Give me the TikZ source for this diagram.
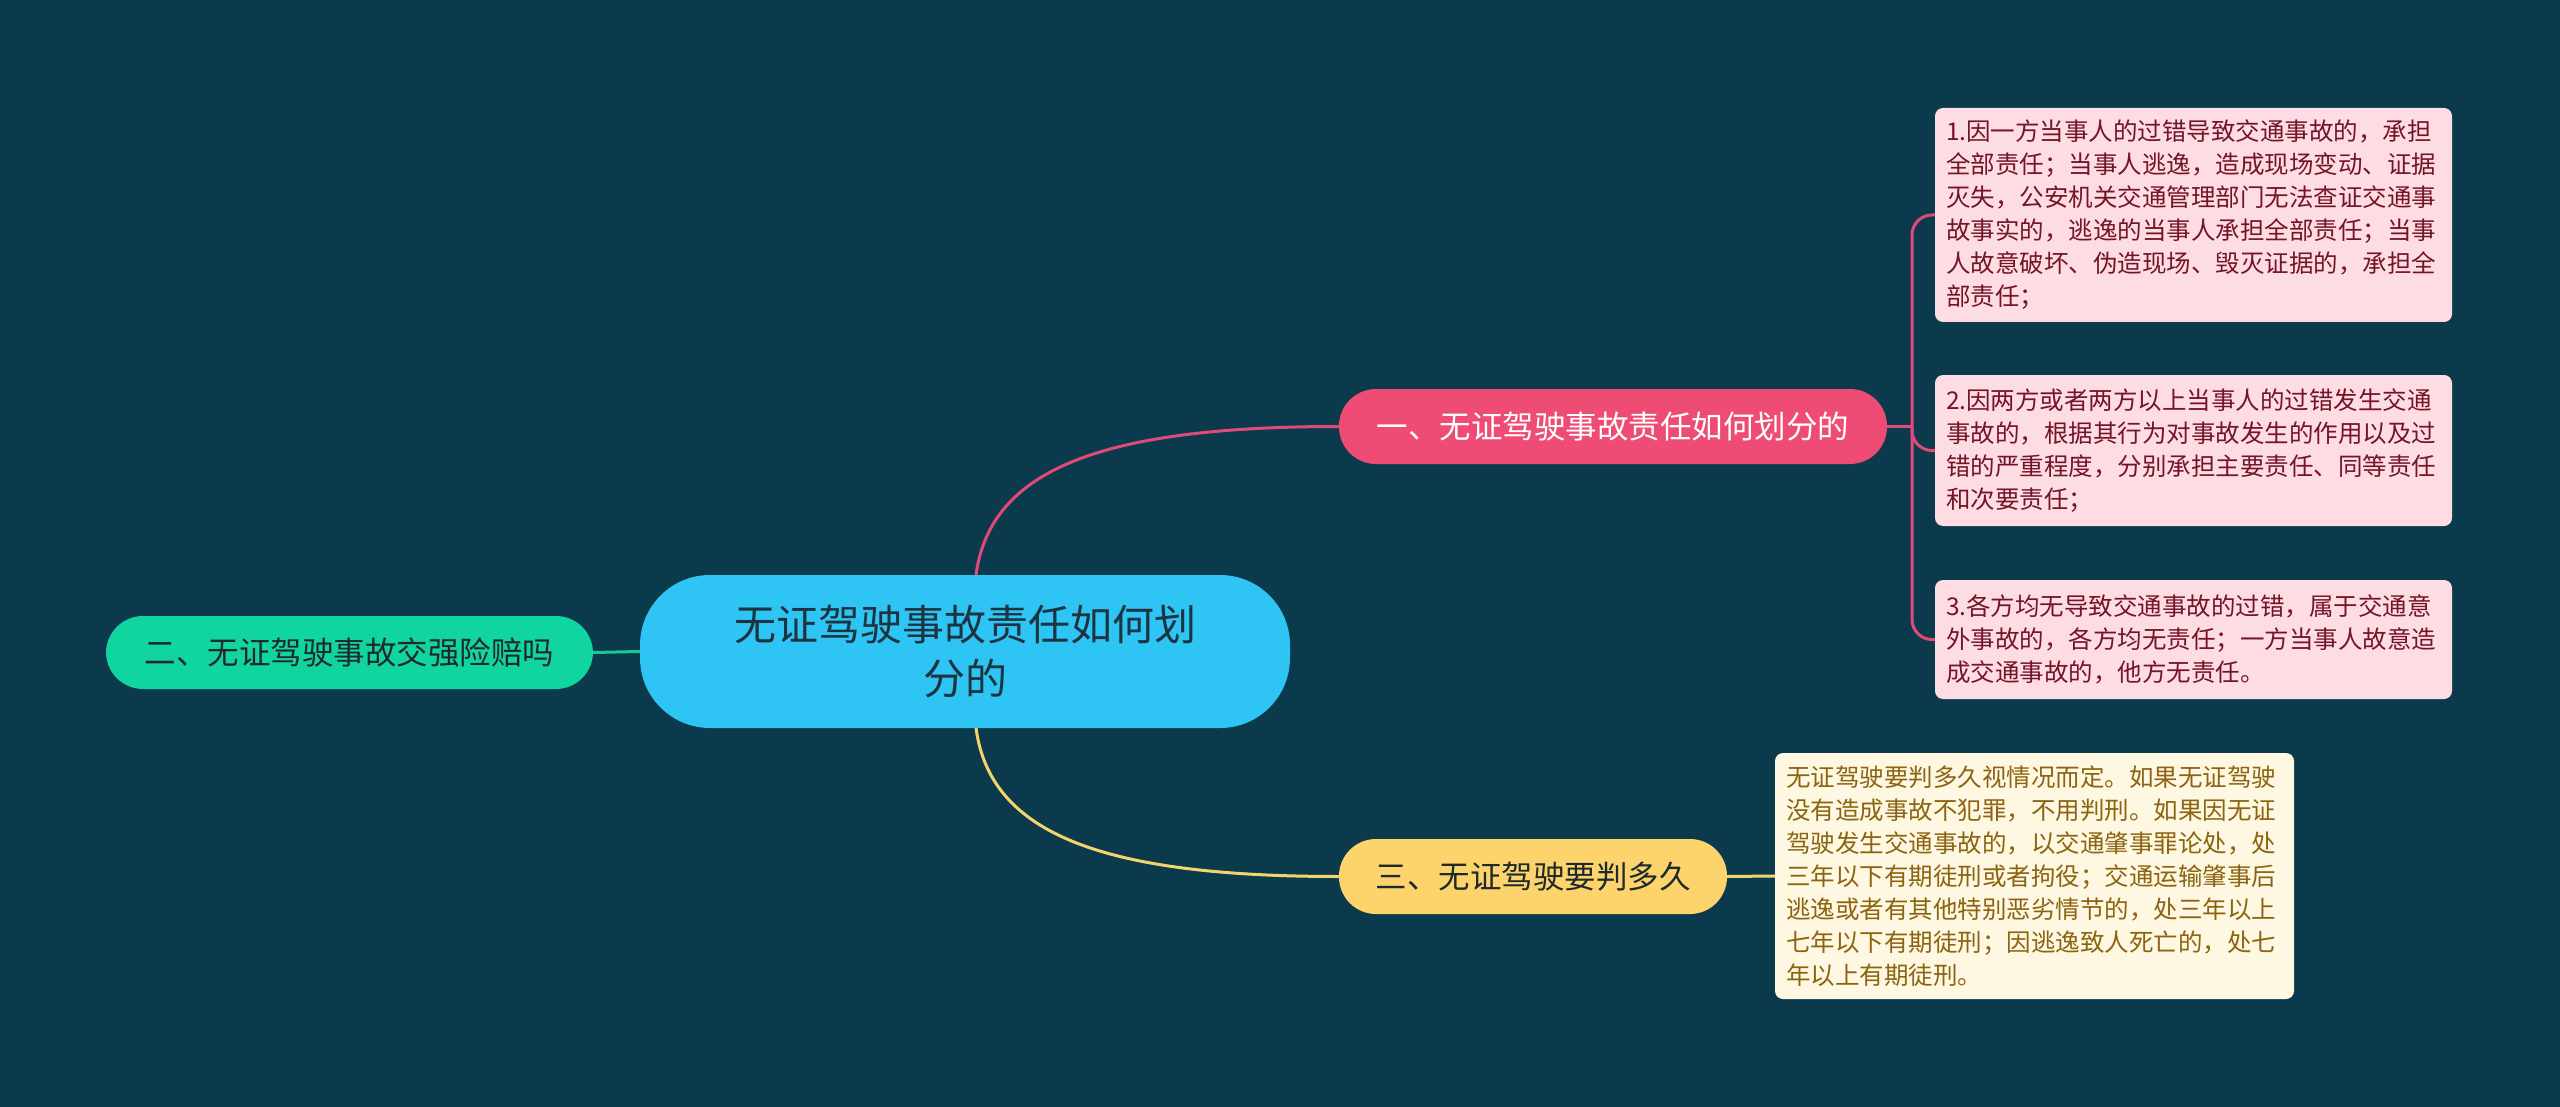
\documentclass[tikz,border=0pt]{standalone}
\usepackage{fontspec}
\setmainfont{Noto Sans CJK SC}
\definecolor{bgc}{HTML}{0A3A4C}
\definecolor{cenfill}{HTML}{2EC4F4}
\definecolor{centext}{HTML}{1B3440}
\definecolor{pinkfill}{HTML}{EE4B75}
\definecolor{pinkline}{HTML}{E04A78}
\definecolor{greenfill}{HTML}{10D5A0}
\definecolor{greenline}{HTML}{16C99A}
\definecolor{yelfill}{HTML}{FDD46B}
\definecolor{yelline}{HTML}{F4D46C}
\definecolor{darktext}{HTML}{1E2A2A}
\definecolor{pinkbox}{HTML}{FDDDE3}
\definecolor{pinkboxtext}{HTML}{741426}
\definecolor{yelbox}{HTML}{FEF7E2}
\definecolor{yelboxtext}{HTML}{8C6410}
\begin{document}
\begin{tikzpicture}[x=1pt,y=-1pt,
  central/.style={fill=cenfill, rounded corners=70pt, minimum width=650pt, minimum height=153pt,
    inner sep=0pt, align=center, text=centext, font=\fontsize{42}{54}\selectfont},
  branch/.style={rounded corners=37pt, minimum height=75pt, inner sep=0pt, align=center,
    font=\fontsize{31.5}{38}\selectfont},
  leafbox/.style={rounded corners=8pt, inner xsep=11pt, inner ysep=0pt, text width=495pt,
    align=left, font=\fontsize{24.5}{33}\selectfont},
  conn/.style={line width=3pt},
  bracket/.style={line width=3pt, rounded corners=20pt}
]
\fill[bgc] (0,0) rectangle (2560,1107);
\useasboundingbox (0,0) rectangle (2560,1107);

\coordinate (ctop) at (976,575);
\coordinate (cbot) at (976,728);
\coordinate (pj) at (1912,426.5);

\node[central] (c) at (965,651.5) {无证驾驶事故责任如何划\\分的};

\node[branch, fill=pinkfill, text=white, minimum width=548pt] (p) at (1613,426.5) {一、无证驾驶事故责任如何划分的};
\node[branch, fill=greenfill, text=darktext, minimum width=487pt, minimum height=73pt] (g) at (349.5,652.5) {二、无证驾驶事故交强险赔吗};
\node[branch, fill=yelfill, text=darktext, minimum width=388pt] (y) at (1533,876.5) {三、无证驾驶要判多久};

\node[leafbox, fill=pinkbox, text=pinkboxtext, minimum height=214pt] (b1) at (2193.5,215) {1.因一方当事人的过错导致交通事故的，承担\\全部责任；当事人逃逸，造成现场变动、证据\\灭失，公安机关交通管理部门无法查证交通事\\故事实的，逃逸的当事人承担全部责任；当事\\人故意破坏、伪造现场、毁灭证据的，承担全\\部责任；};
\node[leafbox, fill=pinkbox, text=pinkboxtext, minimum height=151pt] (b2) at (2193.5,450.5) {2.因两方或者两方以上当事人的过错发生交通\\事故的，根据其行为对事故发生的作用以及过\\错的严重程度，分别承担主要责任、同等责任\\和次要责任；};
\node[leafbox, fill=pinkbox, text=pinkboxtext, minimum height=119pt] (b3) at (2193.5,639.5) {3.各方均无导致交通事故的过错，属于交通意\\外事故的，各方均无责任；一方当事人故意造\\成交通事故的，他方无责任。};
\node[leafbox, fill=yelbox, text=yelboxtext, minimum height=246pt, text width=497pt] (yb) at (2034.5,876) {无证驾驶要判多久视情况而定。如果无证驾驶\\没有造成事故不犯罪，不用判刑。如果因无证\\驾驶发生交通事故的，以交通肇事罪论处，处\\三年以下有期徒刑或者拘役；交通运输肇事后\\逃逸或者有其他特别恶劣情节的，处三年以上\\七年以下有期徒刑；因逃逸致人死亡的，处七\\年以上有期徒刑。};

\draw[conn, pinkline] (ctop) .. controls (990,470) and (1100,426.5) .. (p.west);
\draw[conn, yelline] (cbot) .. controls (990,833) and (1100,876.5) .. (y.west);
\draw[conn, greenline] (g.east) -- (c.west);
\draw[conn, pinkline] (p.east) -- (pj);
\draw[bracket, pinkline] (pj) -- (pj |- b1.west) -- (b1.west);
\draw[bracket, pinkline] (pj) -- (pj |- b2.west) -- (b2.west);
\draw[bracket, pinkline] (pj) -- (pj |- b3.west) -- (b3.west);
\draw[conn, yelline] (y.east) -- (yb.west);
\end{tikzpicture}
\end{document}
